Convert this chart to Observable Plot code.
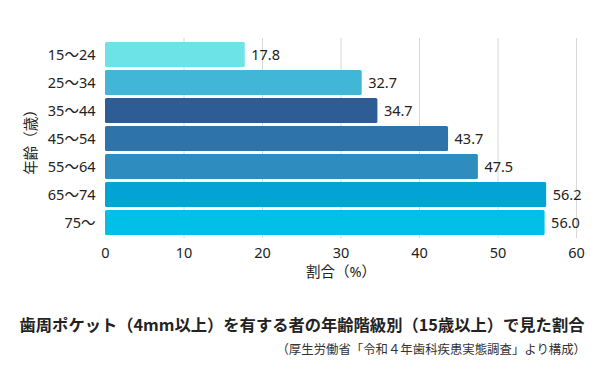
<!DOCTYPE html>
<html><head><meta charset="utf-8">
<script src="https://cdn.jsdelivr.net/npm/d3@7"></script>
<script src="https://cdn.jsdelivr.net/npm/@observablehq/plot@0.6"></script>
<style>
body{margin:0;background:#fff;font-family:"Noto Sans","Noto Sans CJK JP",sans-serif;width:600px;height:372px;overflow:hidden;}
#title{position:absolute;left:0;width:604px;top:313px;text-align:center;font-weight:bold;font-size:16.3px;color:#222;line-height:22px;font-family:"Noto Sans CJK JP",sans-serif;}
#cap{position:absolute;right:14px;top:340px;font-size:12.4px;color:#333;line-height:18px;font-family:"Noto Sans CJK JP",sans-serif;}
#chart{position:absolute;left:0;top:0;}
</style></head>
<body>
<div id="chart"></div>
<div id="title">歯周ポケット（4mm以上）を有する者の年齢階級別（15歳以上）で見た割合</div>
<div id="cap">（厚生労働省「令和４年歯科疾患実態調査」より構成）</div>
<script>
const ages = ["15〜24","25〜34","35〜44","45〜54","55〜64","65〜74","75〜"];
const values = [17.8, 32.7, 34.7, 43.7, 47.5, 56.2, 56.0];
const colors = ["#6ce3e6","#42b6d6","#2e5d96","#2e74ab","#2e8cbf","#04a3d6","#00c0e8"];
const xTicks = [0,10,20,30,40,50,60];
const data = ages.map((a,i)=>({age:a, value:values[i], color:colors[i]}));

const chart = Plot.plot({
  width: 600,
  height: 290,
  marginLeft: 105,
  marginRight: 24,
  marginTop: 38,
  marginBottom: 52,
  style: {fontFamily: '"Noto Sans","Noto Sans CJK JP",sans-serif', fontSize: "14.5px", color: "#222", background: "#fff"},
  x: {domain: [0,60], ticks: xTicks, label: "割合（%）", labelAnchor: "center", labelArrow: "none", labelOffset: 38, tickSize: 0, tickPadding: 9},
  y: {domain: ages, label: "年齢（歳）", labelAnchor: "center", labelArrow: "none", labelOffset: 80, tickSize: 0, tickPadding: 10, padding: 0.12},
  marks: [
    Plot.gridX(xTicks.filter(d=>d>0), {stroke: "#d8d8d8", strokeOpacity: 1, strokeWidth: 1}),
    Plot.barX(data, {x: "value", y: "age", fill: "color", rx: 1.5}),
    Plot.text(data, {x: "value", y: "age", text: d => d.value.toFixed(1), textAnchor: "start", dx: 6, fontSize: 14.5, fill: "#222"})
  ]
});
document.getElementById("chart").appendChild(chart);
</script>
</body></html>
